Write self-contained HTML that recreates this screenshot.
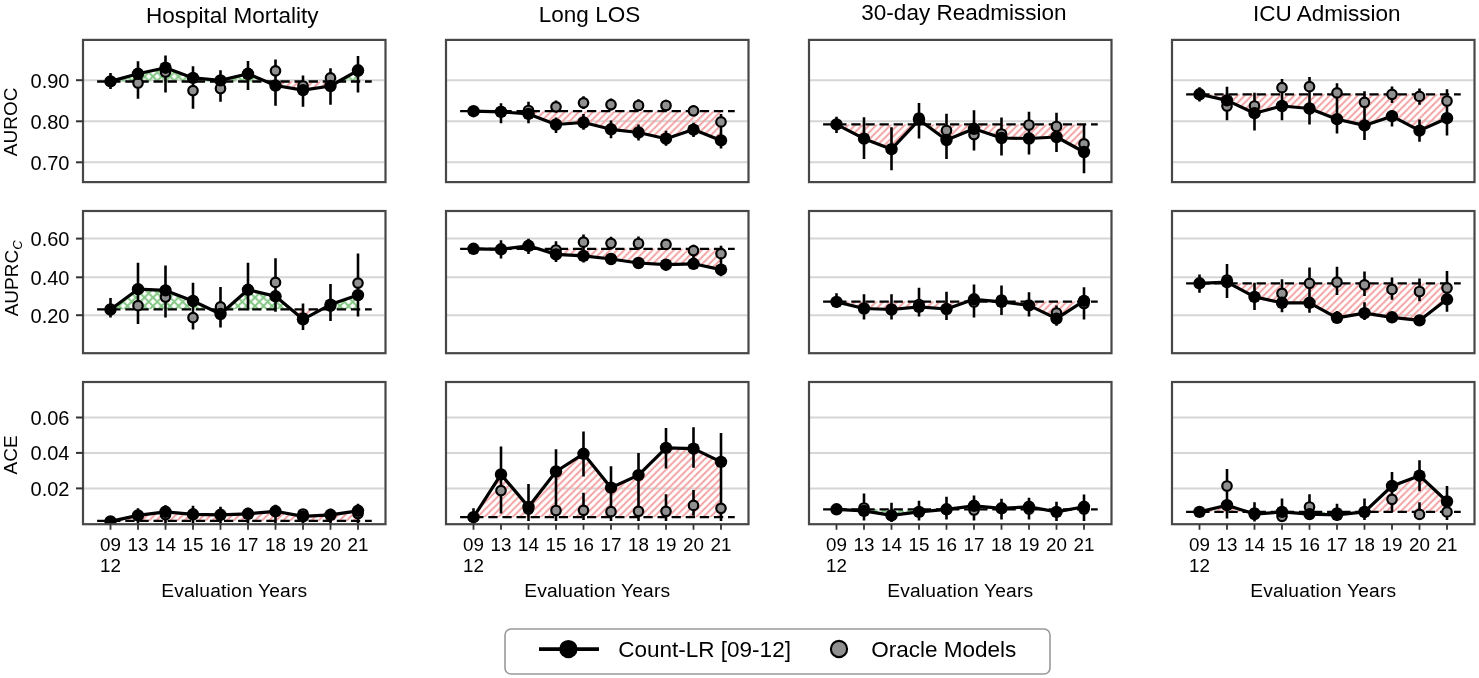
<!DOCTYPE html>
<html><head><meta charset="utf-8"><style>
html,body{margin:0;padding:0;background:#fff;}
svg{display:block;filter:blur(0.55px);}
text{font-family:"Liberation Sans",sans-serif;fill:#000;}
</style></head><body>
<svg width="1479" height="678" viewBox="0 0 1479 678">
<defs>
<pattern id="hr" patternUnits="userSpaceOnUse" width="7.06" height="7.06" patternTransform="translate(6,0)">
<path d="M-1,1 L1,-1 M0,7.06 L7.06,0 M6.06,8.06 L8.06,6.06" stroke="#f4a2a2" stroke-width="2" fill="none"/>
</pattern>
<pattern id="hg" patternUnits="userSpaceOnUse" width="8.5" height="8.5">
<path d="M-1,1 L1,-1 M0,8.5 L8.5,0 M7.5,9.5 L9.5,7.5 M-1,7.5 L1,9.5 M0,0 L8.5,8.5 M7.5,-1 L9.5,1" stroke="#82c682" stroke-width="2" fill="none"/>
</pattern>
<clipPath id="c00"><rect x="83" y="39.9" width="302.5" height="142.2"/></clipPath><clipPath id="c01"><rect x="446" y="39.9" width="302.5" height="142.2"/></clipPath><clipPath id="c02"><rect x="809" y="39.9" width="302.5" height="142.2"/></clipPath><clipPath id="c03"><rect x="1172" y="39.9" width="302.5" height="142.2"/></clipPath><clipPath id="c10"><rect x="83" y="211" width="302.5" height="142.2"/></clipPath><clipPath id="c11"><rect x="446" y="211" width="302.5" height="142.2"/></clipPath><clipPath id="c12"><rect x="809" y="211" width="302.5" height="142.2"/></clipPath><clipPath id="c13"><rect x="1172" y="211" width="302.5" height="142.2"/></clipPath><clipPath id="c20"><rect x="83" y="382" width="302.5" height="142.2"/></clipPath><clipPath id="c21"><rect x="446" y="382" width="302.5" height="142.2"/></clipPath><clipPath id="c22"><rect x="809" y="382" width="302.5" height="142.2"/></clipPath><clipPath id="c23"><rect x="1172" y="382" width="302.5" height="142.2"/></clipPath></defs>
<rect width="1479" height="678" fill="#fff"/>
<g clip-path="url(#c00)">
<line x1="84" y1="80.2" x2="384.5" y2="80.2" stroke="#d6d6d6" stroke-width="2"/>
<line x1="84" y1="121.3" x2="384.5" y2="121.3" stroke="#d6d6d6" stroke-width="2"/>
<line x1="84" y1="162.3" x2="384.5" y2="162.3" stroke="#d6d6d6" stroke-width="2"/>
<path d="M110.5,81.4 L138,73.8 L138,81.5 L110.5,81.5Z" fill="url(#hg)"/>
<path d="M138,73.8 L165.5,67.7 L165.5,81.5 L138,81.5Z" fill="url(#hg)"/>
<path d="M165.5,67.7 L193,77.9 L193,81.5 L165.5,81.5Z" fill="url(#hg)"/>
<path d="M193,77.9 L220.5,80.4 L220.5,81.5 L193,81.5Z" fill="url(#hg)"/>
<path d="M220.5,80.4 L248,73.8 L248,81.5 L220.5,81.5Z" fill="url(#hg)"/>
<path d="M248,73.8 L266.1,81.5 L266.1,81.5 L248,81.5Z" fill="url(#hg)"/>
<path d="M266.1,81.5 L275.5,85.5 L275.5,81.5 L266.1,81.5Z" fill="url(#hr)"/>
<path d="M275.5,85.5 L303,90.1 L303,81.5 L275.5,81.5Z" fill="url(#hr)"/>
<path d="M303,90.1 L330.5,86 L330.5,81.5 L303,81.5Z" fill="url(#hr)"/>
<path d="M330.5,86 L338.38,81.5 L338.38,81.5 L330.5,81.5Z" fill="url(#hr)"/>
<path d="M338.38,81.5 L358,70.3 L358,81.5 L338.38,81.5Z" fill="url(#hg)"/>
<line x1="96.75" y1="81.5" x2="371.75" y2="81.5" stroke="#000" stroke-width="2.3" stroke-dasharray="9.3 4.8" stroke-dashoffset="-0.35"/>
<path d="M110.5,73.1V89M138,61.2V98.7M165.5,55.6V92.6M193,66.2V108.8M220.5,70.3V101.7M248,61V90M275.5,59.6V105.8M303,75.4V106.8M330.5,68.3V104.8M358,56.1V92.6" stroke="#000" stroke-width="2.6" fill="none"/>
<circle cx="138" cy="83" r="4.75" fill="#909090" stroke="#000" stroke-width="2.2"/>
<circle cx="165.5" cy="72" r="4.75" fill="#909090" stroke="#000" stroke-width="2.2"/>
<circle cx="193" cy="90.6" r="4.75" fill="#909090" stroke="#000" stroke-width="2.2"/>
<circle cx="220.5" cy="88.5" r="4.75" fill="#909090" stroke="#000" stroke-width="2.2"/>
<circle cx="248" cy="74" r="4.75" fill="#909090" stroke="#000" stroke-width="2.2"/>
<circle cx="275.5" cy="70.8" r="4.75" fill="#909090" stroke="#000" stroke-width="2.2"/>
<circle cx="303" cy="86" r="4.75" fill="#909090" stroke="#000" stroke-width="2.2"/>
<circle cx="330.5" cy="77.9" r="4.75" fill="#909090" stroke="#000" stroke-width="2.2"/>
<circle cx="358" cy="71" r="4.75" fill="#909090" stroke="#000" stroke-width="2.2"/>
<path d="M110.5,81.4 L138,73.8 L165.5,67.7 L193,77.9 L220.5,80.4 L248,73.8 L275.5,85.5 L303,90.1 L330.5,86 L358,70.3" stroke="#000" stroke-width="3.2" fill="none" stroke-linejoin="round"/>
<circle cx="110.5" cy="81.4" r="6.2"/>
<circle cx="138" cy="73.8" r="6.2"/>
<circle cx="165.5" cy="67.7" r="6.2"/>
<circle cx="193" cy="77.9" r="6.2"/>
<circle cx="220.5" cy="80.4" r="6.2"/>
<circle cx="248" cy="73.8" r="6.2"/>
<circle cx="275.5" cy="85.5" r="6.2"/>
<circle cx="303" cy="90.1" r="6.2"/>
<circle cx="330.5" cy="86" r="6.2"/>
<circle cx="358" cy="70.3" r="6.2"/>
</g>
<rect x="83" y="39.9" width="302.5" height="142.2" fill="none" stroke="#474747" stroke-width="2.2"/>
<g clip-path="url(#c01)">
<line x1="447" y1="80.2" x2="747.5" y2="80.2" stroke="#d6d6d6" stroke-width="2"/>
<line x1="447" y1="121.3" x2="747.5" y2="121.3" stroke="#d6d6d6" stroke-width="2"/>
<line x1="447" y1="162.3" x2="747.5" y2="162.3" stroke="#d6d6d6" stroke-width="2"/>
<path d="M473.5,111.2 L501,111.9 L501,111.2 L473.5,111.2Z" fill="url(#hr)"/>
<path d="M501,111.9 L528.5,113.9 L528.5,111.2 L501,111.2Z" fill="url(#hr)"/>
<path d="M528.5,113.9 L556,124.5 L556,111.2 L528.5,111.2Z" fill="url(#hr)"/>
<path d="M556,124.5 L583.5,122.5 L583.5,111.2 L556,111.2Z" fill="url(#hr)"/>
<path d="M583.5,122.5 L611,129.3 L611,111.2 L583.5,111.2Z" fill="url(#hr)"/>
<path d="M611,129.3 L638.5,132.5 L638.5,111.2 L611,111.2Z" fill="url(#hr)"/>
<path d="M638.5,132.5 L666,138.7 L666,111.2 L638.5,111.2Z" fill="url(#hr)"/>
<path d="M666,138.7 L693.5,129.6 L693.5,111.2 L666,111.2Z" fill="url(#hr)"/>
<path d="M693.5,129.6 L721,140.4 L721,111.2 L693.5,111.2Z" fill="url(#hr)"/>
<line x1="459.75" y1="111.2" x2="734.75" y2="111.2" stroke="#000" stroke-width="2.3" stroke-dasharray="9.3 4.8" stroke-dashoffset="-0.35"/>
<path d="M473.5,109V113M501,103.3V123.3M528.5,101.7V123.3M556,100.6V112.6M556,117.4V132.9M583.5,96.2V109M583.5,113.9V129.8M611,98.4V110.4M611,120.5V138.2M638.5,99.3V110.8M638.5,124.5V140.4M666,99.7V111.2M666,130.7V145.8M693.5,105.5V116.1M693.5,122.7V136.9M721,113.9V148.4" stroke="#000" stroke-width="2.6" fill="none"/>
<circle cx="501" cy="111.5" r="4.75" fill="#909090" stroke="#000" stroke-width="2.2"/>
<circle cx="528.5" cy="110.5" r="4.75" fill="#909090" stroke="#000" stroke-width="2.2"/>
<circle cx="556" cy="106.8" r="4.75" fill="#909090" stroke="#000" stroke-width="2.2"/>
<circle cx="583.5" cy="102.8" r="4.75" fill="#909090" stroke="#000" stroke-width="2.2"/>
<circle cx="611" cy="104.6" r="4.75" fill="#909090" stroke="#000" stroke-width="2.2"/>
<circle cx="638.5" cy="105.5" r="4.75" fill="#909090" stroke="#000" stroke-width="2.2"/>
<circle cx="666" cy="105.5" r="4.75" fill="#909090" stroke="#000" stroke-width="2.2"/>
<circle cx="693.5" cy="110.8" r="4.75" fill="#909090" stroke="#000" stroke-width="2.2"/>
<circle cx="721" cy="121.9" r="4.75" fill="#909090" stroke="#000" stroke-width="2.2"/>
<path d="M473.5,111.2 L501,111.9 L528.5,113.9 L556,124.5 L583.5,122.5 L611,129.3 L638.5,132.5 L666,138.7 L693.5,129.6 L721,140.4" stroke="#000" stroke-width="3.2" fill="none" stroke-linejoin="round"/>
<circle cx="473.5" cy="111.2" r="6.2"/>
<circle cx="501" cy="111.9" r="6.2"/>
<circle cx="528.5" cy="113.9" r="6.2"/>
<circle cx="556" cy="124.5" r="6.2"/>
<circle cx="583.5" cy="122.5" r="6.2"/>
<circle cx="611" cy="129.3" r="6.2"/>
<circle cx="638.5" cy="132.5" r="6.2"/>
<circle cx="666" cy="138.7" r="6.2"/>
<circle cx="693.5" cy="129.6" r="6.2"/>
<circle cx="721" cy="140.4" r="6.2"/>
</g>
<rect x="446" y="39.9" width="302.5" height="142.2" fill="none" stroke="#474747" stroke-width="2.2"/>
<g clip-path="url(#c02)">
<line x1="810" y1="80.2" x2="1110.5" y2="80.2" stroke="#d6d6d6" stroke-width="2"/>
<line x1="810" y1="121.3" x2="1110.5" y2="121.3" stroke="#d6d6d6" stroke-width="2"/>
<line x1="810" y1="162.3" x2="1110.5" y2="162.3" stroke="#d6d6d6" stroke-width="2"/>
<path d="M836.5,124.4 L864,138.7 L864,124.4 L836.5,124.4Z" fill="url(#hr)"/>
<path d="M864,138.7 L891.5,149.2 L891.5,124.4 L864,124.4Z" fill="url(#hr)"/>
<path d="M891.5,149.2 L914.7,124.4 L914.7,124.4 L891.5,124.4Z" fill="url(#hr)"/>
<path d="M914.7,124.4 L919,119.8 L919,124.4 L914.7,124.4Z" fill="url(#hg)"/>
<path d="M919,119.8 L925.26,124.4 L925.26,124.4 L919,124.4Z" fill="url(#hg)"/>
<path d="M925.26,124.4 L946.5,140 L946.5,124.4 L925.26,124.4Z" fill="url(#hr)"/>
<path d="M946.5,140 L974,128.8 L974,124.4 L946.5,124.4Z" fill="url(#hr)"/>
<path d="M974,128.8 L1001.5,138 L1001.5,124.4 L974,124.4Z" fill="url(#hr)"/>
<path d="M1001.5,138 L1029,138.5 L1029,124.4 L1001.5,124.4Z" fill="url(#hr)"/>
<path d="M1029,138.5 L1056.5,137 L1056.5,124.4 L1029,124.4Z" fill="url(#hr)"/>
<path d="M1056.5,137 L1084,152 L1084,124.4 L1056.5,124.4Z" fill="url(#hr)"/>
<line x1="822.75" y1="124.4" x2="1097.75" y2="124.4" stroke="#000" stroke-width="2.3" stroke-dasharray="9.3 4.8" stroke-dashoffset="-0.35"/>
<path d="M836.5,116.8V133M864,117.3V159.1M891.5,127.3V170.3M919,103.1V138.6M946.5,113.8V159.1M974,110.3V150.5M1001.5,117.4V155.6M1029,111.8V154.6M1056.5,112.8V152M1084,124.5V173.3" stroke="#000" stroke-width="2.6" fill="none"/>
<circle cx="919" cy="118" r="4.75" fill="#909090" stroke="#000" stroke-width="2.2"/>
<circle cx="946.5" cy="130.5" r="4.75" fill="#909090" stroke="#000" stroke-width="2.2"/>
<circle cx="974" cy="134.6" r="4.75" fill="#909090" stroke="#000" stroke-width="2.2"/>
<circle cx="1001.5" cy="134" r="4.75" fill="#909090" stroke="#000" stroke-width="2.2"/>
<circle cx="1029" cy="125" r="4.75" fill="#909090" stroke="#000" stroke-width="2.2"/>
<circle cx="1056.5" cy="126.5" r="4.75" fill="#909090" stroke="#000" stroke-width="2.2"/>
<circle cx="1084" cy="143.9" r="4.75" fill="#909090" stroke="#000" stroke-width="2.2"/>
<path d="M836.5,124.4 L864,138.7 L891.5,149.2 L919,119.8 L946.5,140 L974,128.8 L1001.5,138 L1029,138.5 L1056.5,137 L1084,152" stroke="#000" stroke-width="3.2" fill="none" stroke-linejoin="round"/>
<circle cx="836.5" cy="124.4" r="6.2"/>
<circle cx="864" cy="138.7" r="6.2"/>
<circle cx="891.5" cy="149.2" r="6.2"/>
<circle cx="919" cy="119.8" r="6.2"/>
<circle cx="946.5" cy="140" r="6.2"/>
<circle cx="974" cy="128.8" r="6.2"/>
<circle cx="1001.5" cy="138" r="6.2"/>
<circle cx="1029" cy="138.5" r="6.2"/>
<circle cx="1056.5" cy="137" r="6.2"/>
<circle cx="1084" cy="152" r="6.2"/>
</g>
<rect x="809" y="39.9" width="302.5" height="142.2" fill="none" stroke="#474747" stroke-width="2.2"/>
<g clip-path="url(#c03)">
<line x1="1173" y1="80.2" x2="1473.5" y2="80.2" stroke="#d6d6d6" stroke-width="2"/>
<line x1="1173" y1="121.3" x2="1473.5" y2="121.3" stroke="#d6d6d6" stroke-width="2"/>
<line x1="1173" y1="162.3" x2="1473.5" y2="162.3" stroke="#d6d6d6" stroke-width="2"/>
<path d="M1199.5,94.3 L1227,100.4 L1227,94.3 L1199.5,94.3Z" fill="url(#hr)"/>
<path d="M1227,100.4 L1254.5,113.2 L1254.5,94.3 L1227,94.3Z" fill="url(#hr)"/>
<path d="M1254.5,113.2 L1282,106 L1282,94.3 L1254.5,94.3Z" fill="url(#hr)"/>
<path d="M1282,106 L1309.5,108.5 L1309.5,94.3 L1282,94.3Z" fill="url(#hr)"/>
<path d="M1309.5,108.5 L1337,119.2 L1337,94.3 L1309.5,94.3Z" fill="url(#hr)"/>
<path d="M1337,119.2 L1364.5,125.4 L1364.5,94.3 L1337,94.3Z" fill="url(#hr)"/>
<path d="M1364.5,125.4 L1392,116.2 L1392,94.3 L1364.5,94.3Z" fill="url(#hr)"/>
<path d="M1392,116.2 L1419.5,130.6 L1419.5,94.3 L1392,94.3Z" fill="url(#hr)"/>
<path d="M1419.5,130.6 L1447,118.2 L1447,94.3 L1419.5,94.3Z" fill="url(#hr)"/>
<line x1="1185.75" y1="94.3" x2="1460.75" y2="94.3" stroke="#000" stroke-width="2.3" stroke-dasharray="9.3 4.8" stroke-dashoffset="-0.35"/>
<path d="M1199.5,87.2V101.4M1227,86.7V120.2M1254.5,92.8V130.5M1282,79.1V120.2M1309.5,77.1V124.6M1337,83.2V133.5M1364.5,91.3V140.1M1392,86.4V103M1392,110V126.5M1419.5,88.4V104.8M1419.5,119.4V141.7M1447,89.3V135.6" stroke="#000" stroke-width="2.6" fill="none"/>
<circle cx="1227" cy="106" r="4.75" fill="#909090" stroke="#000" stroke-width="2.2"/>
<circle cx="1254.5" cy="106" r="4.75" fill="#909090" stroke="#000" stroke-width="2.2"/>
<circle cx="1282" cy="87.7" r="4.75" fill="#909090" stroke="#000" stroke-width="2.2"/>
<circle cx="1309.5" cy="86.7" r="4.75" fill="#909090" stroke="#000" stroke-width="2.2"/>
<circle cx="1337" cy="92.8" r="4.75" fill="#909090" stroke="#000" stroke-width="2.2"/>
<circle cx="1364.5" cy="102.3" r="4.75" fill="#909090" stroke="#000" stroke-width="2.2"/>
<circle cx="1392" cy="94.3" r="4.75" fill="#909090" stroke="#000" stroke-width="2.2"/>
<circle cx="1419.5" cy="96.4" r="4.75" fill="#909090" stroke="#000" stroke-width="2.2"/>
<circle cx="1447" cy="101" r="4.75" fill="#909090" stroke="#000" stroke-width="2.2"/>
<path d="M1199.5,94.3 L1227,100.4 L1254.5,113.2 L1282,106 L1309.5,108.5 L1337,119.2 L1364.5,125.4 L1392,116.2 L1419.5,130.6 L1447,118.2" stroke="#000" stroke-width="3.2" fill="none" stroke-linejoin="round"/>
<circle cx="1199.5" cy="94.3" r="6.2"/>
<circle cx="1227" cy="100.4" r="6.2"/>
<circle cx="1254.5" cy="113.2" r="6.2"/>
<circle cx="1282" cy="106" r="6.2"/>
<circle cx="1309.5" cy="108.5" r="6.2"/>
<circle cx="1337" cy="119.2" r="6.2"/>
<circle cx="1364.5" cy="125.4" r="6.2"/>
<circle cx="1392" cy="116.2" r="6.2"/>
<circle cx="1419.5" cy="130.6" r="6.2"/>
<circle cx="1447" cy="118.2" r="6.2"/>
</g>
<rect x="1172" y="39.9" width="302.5" height="142.2" fill="none" stroke="#474747" stroke-width="2.2"/>
<g clip-path="url(#c10)">
<line x1="84" y1="238.6" x2="384.5" y2="238.6" stroke="#d6d6d6" stroke-width="2"/>
<line x1="84" y1="277.3" x2="384.5" y2="277.3" stroke="#d6d6d6" stroke-width="2"/>
<line x1="84" y1="315.2" x2="384.5" y2="315.2" stroke="#d6d6d6" stroke-width="2"/>
<path d="M110.5,309.5 L110.77,309.3 L110.77,309.3 L110.5,309.3Z" fill="url(#hr)"/>
<path d="M110.77,309.3 L138,289.2 L138,309.3 L110.77,309.3Z" fill="url(#hg)"/>
<path d="M138,289.2 L165.5,290.4 L165.5,309.3 L138,309.3Z" fill="url(#hg)"/>
<path d="M165.5,290.4 L193,301 L193,309.3 L165.5,309.3Z" fill="url(#hg)"/>
<path d="M193,301 L210.56,309.3 L210.56,309.3 L193,309.3Z" fill="url(#hg)"/>
<path d="M210.56,309.3 L220.5,314 L220.5,309.3 L210.56,309.3Z" fill="url(#hr)"/>
<path d="M220.5,314 L225.84,309.3 L225.84,309.3 L220.5,309.3Z" fill="url(#hr)"/>
<path d="M225.84,309.3 L248,289.8 L248,309.3 L225.84,309.3Z" fill="url(#hg)"/>
<path d="M248,289.8 L275.5,296.3 L275.5,309.3 L248,309.3Z" fill="url(#hg)"/>
<path d="M275.5,296.3 L291.04,309.3 L291.04,309.3 L275.5,309.3Z" fill="url(#hg)"/>
<path d="M291.04,309.3 L303,319.3 L303,309.3 L291.04,309.3Z" fill="url(#hr)"/>
<path d="M303,319.3 L321.71,309.3 L321.71,309.3 L303,309.3Z" fill="url(#hr)"/>
<path d="M321.71,309.3 L330.5,304.6 L330.5,309.3 L321.71,309.3Z" fill="url(#hg)"/>
<path d="M330.5,304.6 L358,295.1 L358,309.3 L330.5,309.3Z" fill="url(#hg)"/>
<line x1="96.75" y1="309.3" x2="371.75" y2="309.3" stroke="#000" stroke-width="2.3" stroke-dasharray="9.3 4.8" stroke-dashoffset="-0.35"/>
<path d="M110.5,298.1V317.6M138,262.7V324M165.5,265.6V317.6M193,282.7V329.4M220.5,286.9V327.6M248,262.8V310.5M275.5,258.3V311.7M303,303.4V330M330.5,283.9V321.1M358,253.4V316.4" stroke="#000" stroke-width="2.6" fill="none"/>
<circle cx="138" cy="305.7" r="4.75" fill="#909090" stroke="#000" stroke-width="2.2"/>
<circle cx="165.5" cy="297" r="4.75" fill="#909090" stroke="#000" stroke-width="2.2"/>
<circle cx="193" cy="317.6" r="4.75" fill="#909090" stroke="#000" stroke-width="2.2"/>
<circle cx="220.5" cy="306.9" r="4.75" fill="#909090" stroke="#000" stroke-width="2.2"/>
<circle cx="275.5" cy="282.4" r="4.75" fill="#909090" stroke="#000" stroke-width="2.2"/>
<circle cx="303" cy="318" r="4.75" fill="#909090" stroke="#000" stroke-width="2.2"/>
<circle cx="330.5" cy="306" r="4.75" fill="#909090" stroke="#000" stroke-width="2.2"/>
<circle cx="358" cy="283.1" r="4.75" fill="#909090" stroke="#000" stroke-width="2.2"/>
<path d="M110.5,309.5 L138,289.2 L165.5,290.4 L193,301 L220.5,314 L248,289.8 L275.5,296.3 L303,319.3 L330.5,304.6 L358,295.1" stroke="#000" stroke-width="3.2" fill="none" stroke-linejoin="round"/>
<circle cx="110.5" cy="309.5" r="6.2"/>
<circle cx="138" cy="289.2" r="6.2"/>
<circle cx="165.5" cy="290.4" r="6.2"/>
<circle cx="193" cy="301" r="6.2"/>
<circle cx="220.5" cy="314" r="6.2"/>
<circle cx="248" cy="289.8" r="6.2"/>
<circle cx="275.5" cy="296.3" r="6.2"/>
<circle cx="303" cy="319.3" r="6.2"/>
<circle cx="330.5" cy="304.6" r="6.2"/>
<circle cx="358" cy="295.1" r="6.2"/>
</g>
<rect x="83" y="211" width="302.5" height="142.2" fill="none" stroke="#474747" stroke-width="2.2"/>
<g clip-path="url(#c11)">
<line x1="447" y1="238.6" x2="747.5" y2="238.6" stroke="#d6d6d6" stroke-width="2"/>
<line x1="447" y1="277.3" x2="747.5" y2="277.3" stroke="#d6d6d6" stroke-width="2"/>
<line x1="447" y1="315.2" x2="747.5" y2="315.2" stroke="#d6d6d6" stroke-width="2"/>
<path d="M473.5,248.8 L501,249.3 L501,248.8 L473.5,248.8Z" fill="url(#hr)"/>
<path d="M501,249.3 L504.93,248.8 L504.93,248.8 L501,248.8Z" fill="url(#hr)"/>
<path d="M504.93,248.8 L528.5,245.8 L528.5,248.8 L504.93,248.8Z" fill="url(#hg)"/>
<path d="M528.5,245.8 L538.09,248.8 L538.09,248.8 L528.5,248.8Z" fill="url(#hg)"/>
<path d="M538.09,248.8 L556,254.4 L556,248.8 L538.09,248.8Z" fill="url(#hr)"/>
<path d="M556,254.4 L583.5,255.9 L583.5,248.8 L556,248.8Z" fill="url(#hr)"/>
<path d="M583.5,255.9 L611,259 L611,248.8 L583.5,248.8Z" fill="url(#hr)"/>
<path d="M611,259 L638.5,263 L638.5,248.8 L611,248.8Z" fill="url(#hr)"/>
<path d="M638.5,263 L666,264.7 L666,248.8 L638.5,248.8Z" fill="url(#hr)"/>
<path d="M666,264.7 L693.5,263.8 L693.5,248.8 L666,248.8Z" fill="url(#hr)"/>
<path d="M693.5,263.8 L721,269.6 L721,248.8 L693.5,248.8Z" fill="url(#hr)"/>
<line x1="459.75" y1="248.8" x2="734.75" y2="248.8" stroke="#000" stroke-width="2.3" stroke-dasharray="9.3 4.8" stroke-dashoffset="-0.35"/>
<path d="M473.5,247V251M501,240.2V258.5M528.5,238.7V253.9M556,241.2V262M583.5,234.6V262.5M611,236.7V249.5M611,253V264.6M638.5,236.4V249.5M638.5,257.2V268.7M666,239V249.7M666,259V270.5M693.5,244.8V269.2M721,245.7V276.2" stroke="#000" stroke-width="2.6" fill="none"/>
<circle cx="556" cy="250" r="4.75" fill="#909090" stroke="#000" stroke-width="2.2"/>
<circle cx="583.5" cy="242.2" r="4.75" fill="#909090" stroke="#000" stroke-width="2.2"/>
<circle cx="611" cy="243.3" r="4.75" fill="#909090" stroke="#000" stroke-width="2.2"/>
<circle cx="638.5" cy="243.5" r="4.75" fill="#909090" stroke="#000" stroke-width="2.2"/>
<circle cx="666" cy="244.4" r="4.75" fill="#909090" stroke="#000" stroke-width="2.2"/>
<circle cx="693.5" cy="250.6" r="4.75" fill="#909090" stroke="#000" stroke-width="2.2"/>
<circle cx="721" cy="253.7" r="4.75" fill="#909090" stroke="#000" stroke-width="2.2"/>
<path d="M473.5,248.8 L501,249.3 L528.5,245.8 L556,254.4 L583.5,255.9 L611,259 L638.5,263 L666,264.7 L693.5,263.8 L721,269.6" stroke="#000" stroke-width="3.2" fill="none" stroke-linejoin="round"/>
<circle cx="473.5" cy="248.8" r="6.2"/>
<circle cx="501" cy="249.3" r="6.2"/>
<circle cx="528.5" cy="245.8" r="6.2"/>
<circle cx="556" cy="254.4" r="6.2"/>
<circle cx="583.5" cy="255.9" r="6.2"/>
<circle cx="611" cy="259" r="6.2"/>
<circle cx="638.5" cy="263" r="6.2"/>
<circle cx="666" cy="264.7" r="6.2"/>
<circle cx="693.5" cy="263.8" r="6.2"/>
<circle cx="721" cy="269.6" r="6.2"/>
</g>
<rect x="446" y="211" width="302.5" height="142.2" fill="none" stroke="#474747" stroke-width="2.2"/>
<g clip-path="url(#c12)">
<line x1="810" y1="238.6" x2="1110.5" y2="238.6" stroke="#d6d6d6" stroke-width="2"/>
<line x1="810" y1="277.3" x2="1110.5" y2="277.3" stroke="#d6d6d6" stroke-width="2"/>
<line x1="810" y1="315.2" x2="1110.5" y2="315.2" stroke="#d6d6d6" stroke-width="2"/>
<path d="M836.5,301.9 L864,308.5 L864,301.6 L836.5,301.6Z" fill="url(#hr)"/>
<path d="M864,308.5 L891.5,309.5 L891.5,301.6 L864,301.6Z" fill="url(#hr)"/>
<path d="M891.5,309.5 L919,306.9 L919,301.6 L891.5,301.6Z" fill="url(#hr)"/>
<path d="M919,306.9 L946.5,309 L946.5,301.6 L919,301.6Z" fill="url(#hr)"/>
<path d="M946.5,309 L967.48,301.6 L967.48,301.6 L946.5,301.6Z" fill="url(#hr)"/>
<path d="M967.48,301.6 L974,299.3 L974,301.6 L967.48,301.6Z" fill="url(#hg)"/>
<path d="M974,299.3 L998.33,301.6 L998.33,301.6 L974,301.6Z" fill="url(#hg)"/>
<path d="M998.33,301.6 L1001.5,301.9 L1001.5,301.6 L998.33,301.6Z" fill="url(#hr)"/>
<path d="M1001.5,301.9 L1029,305.4 L1029,301.6 L1001.5,301.6Z" fill="url(#hr)"/>
<path d="M1029,305.4 L1056.5,318.6 L1056.5,301.6 L1029,301.6Z" fill="url(#hr)"/>
<path d="M1056.5,318.6 L1082.91,301.6 L1082.91,301.6 L1056.5,301.6Z" fill="url(#hr)"/>
<path d="M1082.91,301.6 L1084,300.9 L1084,301.6 L1082.91,301.6Z" fill="url(#hg)"/>
<line x1="822.75" y1="301.6" x2="1097.75" y2="301.6" stroke="#000" stroke-width="2.3" stroke-dasharray="9.3 4.8" stroke-dashoffset="-0.35"/>
<path d="M836.5,293.3V307.5M864,294.3V319.6M891.5,294.3V319.6M919,287.7V316.6M946.5,291.7V320.1M974,284.6V317.6M1001.5,285.6V315M1029,292.2V316.6M1056.5,305.4V325.7M1084,287.2V319.6" stroke="#000" stroke-width="2.6" fill="none"/>
<circle cx="919" cy="304.5" r="4.75" fill="#909090" stroke="#000" stroke-width="2.2"/>
<circle cx="974" cy="302" r="4.75" fill="#909090" stroke="#000" stroke-width="2.2"/>
<circle cx="1001.5" cy="300" r="4.75" fill="#909090" stroke="#000" stroke-width="2.2"/>
<circle cx="1056.5" cy="313" r="4.75" fill="#909090" stroke="#000" stroke-width="2.2"/>
<circle cx="1084" cy="303.5" r="4.75" fill="#909090" stroke="#000" stroke-width="2.2"/>
<path d="M836.5,301.9 L864,308.5 L891.5,309.5 L919,306.9 L946.5,309 L974,299.3 L1001.5,301.9 L1029,305.4 L1056.5,318.6 L1084,300.9" stroke="#000" stroke-width="3.2" fill="none" stroke-linejoin="round"/>
<circle cx="836.5" cy="301.9" r="6.2"/>
<circle cx="864" cy="308.5" r="6.2"/>
<circle cx="891.5" cy="309.5" r="6.2"/>
<circle cx="919" cy="306.9" r="6.2"/>
<circle cx="946.5" cy="309" r="6.2"/>
<circle cx="974" cy="299.3" r="6.2"/>
<circle cx="1001.5" cy="301.9" r="6.2"/>
<circle cx="1029" cy="305.4" r="6.2"/>
<circle cx="1056.5" cy="318.6" r="6.2"/>
<circle cx="1084" cy="300.9" r="6.2"/>
</g>
<rect x="809" y="211" width="302.5" height="142.2" fill="none" stroke="#474747" stroke-width="2.2"/>
<g clip-path="url(#c13)">
<line x1="1173" y1="238.6" x2="1473.5" y2="238.6" stroke="#d6d6d6" stroke-width="2"/>
<line x1="1173" y1="277.3" x2="1473.5" y2="277.3" stroke="#d6d6d6" stroke-width="2"/>
<line x1="1173" y1="315.2" x2="1473.5" y2="315.2" stroke="#d6d6d6" stroke-width="2"/>
<path d="M1199.5,283.3 L1227,282.1 L1227,283.3 L1199.5,283.3Z" fill="url(#hg)"/>
<path d="M1227,282.1 L1229.23,283.3 L1229.23,283.3 L1227,283.3Z" fill="url(#hg)"/>
<path d="M1229.23,283.3 L1254.5,296.9 L1254.5,283.3 L1229.23,283.3Z" fill="url(#hr)"/>
<path d="M1254.5,296.9 L1282,302.8 L1282,283.3 L1254.5,283.3Z" fill="url(#hr)"/>
<path d="M1282,302.8 L1309.5,302.8 L1309.5,283.3 L1282,283.3Z" fill="url(#hr)"/>
<path d="M1309.5,302.8 L1337,317.8 L1337,283.3 L1309.5,283.3Z" fill="url(#hr)"/>
<path d="M1337,317.8 L1364.5,313.1 L1364.5,283.3 L1337,283.3Z" fill="url(#hr)"/>
<path d="M1364.5,313.1 L1392,317.3 L1392,283.3 L1364.5,283.3Z" fill="url(#hr)"/>
<path d="M1392,317.3 L1419.5,320.4 L1419.5,283.3 L1392,283.3Z" fill="url(#hr)"/>
<path d="M1419.5,320.4 L1447,299.3 L1447,283.3 L1419.5,283.3Z" fill="url(#hr)"/>
<line x1="1185.75" y1="283.3" x2="1460.75" y2="283.3" stroke="#000" stroke-width="2.3" stroke-dasharray="9.3 4.8" stroke-dashoffset="-0.35"/>
<path d="M1199.5,274.5V292.8M1227,263.9V298.1M1254.5,282.7V309.9M1282,279.2V312.2M1309.5,267.4V312.8M1337,266.7V295.1M1337,311V322M1364.5,271.4V296.1M1364.5,302.3V319.9M1392,277.5V299.7M1419.5,278.6V301.3M1447,270.9V311.7" stroke="#000" stroke-width="2.6" fill="none"/>
<circle cx="1227" cy="280" r="4.75" fill="#909090" stroke="#000" stroke-width="2.2"/>
<circle cx="1282" cy="293.4" r="4.75" fill="#909090" stroke="#000" stroke-width="2.2"/>
<circle cx="1309.5" cy="283.3" r="4.75" fill="#909090" stroke="#000" stroke-width="2.2"/>
<circle cx="1337" cy="282.2" r="4.75" fill="#909090" stroke="#000" stroke-width="2.2"/>
<circle cx="1364.5" cy="284.8" r="4.75" fill="#909090" stroke="#000" stroke-width="2.2"/>
<circle cx="1392" cy="289.4" r="4.75" fill="#909090" stroke="#000" stroke-width="2.2"/>
<circle cx="1419.5" cy="291.5" r="4.75" fill="#909090" stroke="#000" stroke-width="2.2"/>
<circle cx="1447" cy="288" r="4.75" fill="#909090" stroke="#000" stroke-width="2.2"/>
<path d="M1199.5,283.3 L1227,282.1 L1254.5,296.9 L1282,302.8 L1309.5,302.8 L1337,317.8 L1364.5,313.1 L1392,317.3 L1419.5,320.4 L1447,299.3" stroke="#000" stroke-width="3.2" fill="none" stroke-linejoin="round"/>
<circle cx="1199.5" cy="283.3" r="6.2"/>
<circle cx="1227" cy="282.1" r="6.2"/>
<circle cx="1254.5" cy="296.9" r="6.2"/>
<circle cx="1282" cy="302.8" r="6.2"/>
<circle cx="1309.5" cy="302.8" r="6.2"/>
<circle cx="1337" cy="317.8" r="6.2"/>
<circle cx="1364.5" cy="313.1" r="6.2"/>
<circle cx="1392" cy="317.3" r="6.2"/>
<circle cx="1419.5" cy="320.4" r="6.2"/>
<circle cx="1447" cy="299.3" r="6.2"/>
</g>
<rect x="1172" y="211" width="302.5" height="142.2" fill="none" stroke="#474747" stroke-width="2.2"/>
<g clip-path="url(#c20)">
<line x1="84" y1="417.5" x2="384.5" y2="417.5" stroke="#d6d6d6" stroke-width="2"/>
<line x1="84" y1="452.9" x2="384.5" y2="452.9" stroke="#d6d6d6" stroke-width="2"/>
<line x1="84" y1="488.4" x2="384.5" y2="488.4" stroke="#d6d6d6" stroke-width="2"/>
<path d="M110.5,521.4 L112.79,520.9 L112.79,520.9 L110.5,520.9Z" fill="url(#hg)"/>
<path d="M112.79,520.9 L138,515.4 L138,520.9 L112.79,520.9Z" fill="url(#hr)"/>
<path d="M138,515.4 L165.5,511.8 L165.5,520.9 L138,520.9Z" fill="url(#hr)"/>
<path d="M165.5,511.8 L193,514.3 L193,520.9 L165.5,520.9Z" fill="url(#hr)"/>
<path d="M193,514.3 L220.5,514.8 L220.5,520.9 L193,520.9Z" fill="url(#hr)"/>
<path d="M220.5,514.8 L248,513.8 L248,520.9 L220.5,520.9Z" fill="url(#hr)"/>
<path d="M248,513.8 L275.5,511.3 L275.5,520.9 L248,520.9Z" fill="url(#hr)"/>
<path d="M275.5,511.3 L303,516.4 L303,520.9 L275.5,520.9Z" fill="url(#hr)"/>
<path d="M303,516.4 L330.5,514.8 L330.5,520.9 L303,520.9Z" fill="url(#hr)"/>
<path d="M330.5,514.8 L358,510.8 L358,520.9 L330.5,520.9Z" fill="url(#hr)"/>
<line x1="96.75" y1="520.9" x2="371.75" y2="520.9" stroke="#000" stroke-width="2.3" stroke-dasharray="9.3 4.8" stroke-dashoffset="-0.35"/>
<path d="M110.5,519V524M138,508.3V524M165.5,505.2V524M193,505.7V524M220.5,506.7V524M248,507.7V524M275.5,504.7V524M303,509.8V524M330.5,508.8V524M358,503.7V524" stroke="#000" stroke-width="2.6" fill="none"/>
<circle cx="165.5" cy="514.5" r="4.75" fill="#909090" stroke="#000" stroke-width="2.2"/>
<circle cx="303" cy="514" r="4.75" fill="#909090" stroke="#000" stroke-width="2.2"/>
<circle cx="358" cy="513.5" r="4.75" fill="#909090" stroke="#000" stroke-width="2.2"/>
<path d="M110.5,521.4 L138,515.4 L165.5,511.8 L193,514.3 L220.5,514.8 L248,513.8 L275.5,511.3 L303,516.4 L330.5,514.8 L358,510.8" stroke="#000" stroke-width="3.2" fill="none" stroke-linejoin="round"/>
<circle cx="110.5" cy="521.4" r="6.2"/>
<circle cx="138" cy="515.4" r="6.2"/>
<circle cx="165.5" cy="511.8" r="6.2"/>
<circle cx="193" cy="514.3" r="6.2"/>
<circle cx="220.5" cy="514.8" r="6.2"/>
<circle cx="248" cy="513.8" r="6.2"/>
<circle cx="275.5" cy="511.3" r="6.2"/>
<circle cx="303" cy="516.4" r="6.2"/>
<circle cx="330.5" cy="514.8" r="6.2"/>
<circle cx="358" cy="510.8" r="6.2"/>
</g>
<rect x="83" y="382" width="302.5" height="142.2" fill="none" stroke="#474747" stroke-width="2.2"/>
<g clip-path="url(#c21)">
<line x1="447" y1="417.5" x2="747.5" y2="417.5" stroke="#d6d6d6" stroke-width="2"/>
<line x1="447" y1="452.9" x2="747.5" y2="452.9" stroke="#d6d6d6" stroke-width="2"/>
<line x1="447" y1="488.4" x2="747.5" y2="488.4" stroke="#d6d6d6" stroke-width="2"/>
<path d="M473.5,517.2 L501,474.4 L501,517.2 L473.5,517.2Z" fill="url(#hr)"/>
<path d="M501,474.4 L528.5,506.9 L528.5,517.2 L501,517.2Z" fill="url(#hr)"/>
<path d="M528.5,506.9 L556,471.5 L556,517.2 L528.5,517.2Z" fill="url(#hr)"/>
<path d="M556,471.5 L583.5,453.8 L583.5,517.2 L556,517.2Z" fill="url(#hr)"/>
<path d="M583.5,453.8 L611,487.7 L611,517.2 L583.5,517.2Z" fill="url(#hr)"/>
<path d="M611,487.7 L638.5,475.1 L638.5,517.2 L611,517.2Z" fill="url(#hr)"/>
<path d="M638.5,475.1 L666,447.9 L666,517.2 L638.5,517.2Z" fill="url(#hr)"/>
<path d="M666,447.9 L693.5,448.6 L693.5,517.2 L666,517.2Z" fill="url(#hr)"/>
<path d="M693.5,448.6 L721,461.9 L721,517.2 L693.5,517.2Z" fill="url(#hr)"/>
<line x1="459.75" y1="517.2" x2="734.75" y2="517.2" stroke="#000" stroke-width="2.3" stroke-dasharray="9.3 4.8" stroke-dashoffset="-0.35"/>
<path d="M473.5,508.3V524M501,446.4V513.5M528.5,484V520.9M556,449.3V520.9M583.5,431.6V476.6M583.5,492.8V520.1M611,466.3V520.9M638.5,453V520.9M666,428V468.5M666,494.3V520.9M693.5,427.2V467.8M693.5,489.9V515.7M721,433.1V520.9" stroke="#000" stroke-width="2.6" fill="none"/>
<circle cx="501" cy="490.6" r="4.75" fill="#909090" stroke="#000" stroke-width="2.2"/>
<circle cx="528.5" cy="509" r="4.75" fill="#909090" stroke="#000" stroke-width="2.2"/>
<circle cx="556" cy="510.5" r="4.75" fill="#909090" stroke="#000" stroke-width="2.2"/>
<circle cx="583.5" cy="510.3" r="4.75" fill="#909090" stroke="#000" stroke-width="2.2"/>
<circle cx="611" cy="511.7" r="4.75" fill="#909090" stroke="#000" stroke-width="2.2"/>
<circle cx="638.5" cy="511.3" r="4.75" fill="#909090" stroke="#000" stroke-width="2.2"/>
<circle cx="666" cy="511.3" r="4.75" fill="#909090" stroke="#000" stroke-width="2.2"/>
<circle cx="693.5" cy="505.4" r="4.75" fill="#909090" stroke="#000" stroke-width="2.2"/>
<circle cx="721" cy="508.3" r="4.75" fill="#909090" stroke="#000" stroke-width="2.2"/>
<path d="M473.5,517.2 L501,474.4 L528.5,506.9 L556,471.5 L583.5,453.8 L611,487.7 L638.5,475.1 L666,447.9 L693.5,448.6 L721,461.9" stroke="#000" stroke-width="3.2" fill="none" stroke-linejoin="round"/>
<circle cx="473.5" cy="517.2" r="6.2"/>
<circle cx="501" cy="474.4" r="6.2"/>
<circle cx="528.5" cy="506.9" r="6.2"/>
<circle cx="556" cy="471.5" r="6.2"/>
<circle cx="583.5" cy="453.8" r="6.2"/>
<circle cx="611" cy="487.7" r="6.2"/>
<circle cx="638.5" cy="475.1" r="6.2"/>
<circle cx="666" cy="447.9" r="6.2"/>
<circle cx="693.5" cy="448.6" r="6.2"/>
<circle cx="721" cy="461.9" r="6.2"/>
</g>
<rect x="446" y="382" width="302.5" height="142.2" fill="none" stroke="#474747" stroke-width="2.2"/>
<g clip-path="url(#c22)">
<line x1="810" y1="417.5" x2="1110.5" y2="417.5" stroke="#d6d6d6" stroke-width="2"/>
<line x1="810" y1="452.9" x2="1110.5" y2="452.9" stroke="#d6d6d6" stroke-width="2"/>
<line x1="810" y1="488.4" x2="1110.5" y2="488.4" stroke="#d6d6d6" stroke-width="2"/>
<path d="M836.5,509.3 L864,510.9 L864,509.3 L836.5,509.3Z" fill="url(#hg)"/>
<path d="M864,510.9 L891.5,515.4 L891.5,509.3 L864,509.3Z" fill="url(#hg)"/>
<path d="M891.5,515.4 L919,511.9 L919,509.3 L891.5,509.3Z" fill="url(#hg)"/>
<path d="M919,511.9 L946.5,509.3 L946.5,509.3 L919,509.3Z" fill="url(#hg)"/>
<path d="M946.5,509.3 L974,505.8 L974,509.3 L946.5,509.3Z" fill="url(#hr)"/>
<path d="M974,505.8 L1001.5,508.3 L1001.5,509.3 L974,509.3Z" fill="url(#hr)"/>
<path d="M1001.5,508.3 L1029,506.8 L1029,509.3 L1001.5,509.3Z" fill="url(#hr)"/>
<path d="M1029,506.8 L1042.48,509.3 L1042.48,509.3 L1029,509.3Z" fill="url(#hr)"/>
<path d="M1042.48,509.3 L1056.5,511.9 L1056.5,509.3 L1042.48,509.3Z" fill="url(#hg)"/>
<path d="M1056.5,511.9 L1070.52,509.3 L1070.52,509.3 L1056.5,509.3Z" fill="url(#hg)"/>
<path d="M1070.52,509.3 L1084,506.8 L1084,509.3 L1070.52,509.3Z" fill="url(#hr)"/>
<line x1="822.75" y1="509.3" x2="1097.75" y2="509.3" stroke="#000" stroke-width="2.3" stroke-dasharray="9.3 4.8" stroke-dashoffset="-0.35"/>
<path d="M836.5,506V512M864,493.6V520.5M891.5,502.7V522M919,500.7V520.5M946.5,496.7V519.5M974,495.6V520.5M1001.5,498.7V519.5M1029,497.7V519.5M1056.5,501.7V521M1084,494.6V521" stroke="#000" stroke-width="2.6" fill="none"/>
<circle cx="864" cy="508" r="4.75" fill="#909090" stroke="#000" stroke-width="2.2"/>
<circle cx="974" cy="510" r="4.75" fill="#909090" stroke="#000" stroke-width="2.2"/>
<circle cx="1029" cy="509" r="4.75" fill="#909090" stroke="#000" stroke-width="2.2"/>
<circle cx="1084" cy="509" r="4.75" fill="#909090" stroke="#000" stroke-width="2.2"/>
<path d="M836.5,509.3 L864,510.9 L891.5,515.4 L919,511.9 L946.5,509.3 L974,505.8 L1001.5,508.3 L1029,506.8 L1056.5,511.9 L1084,506.8" stroke="#000" stroke-width="3.2" fill="none" stroke-linejoin="round"/>
<circle cx="836.5" cy="509.3" r="6.2"/>
<circle cx="864" cy="510.9" r="6.2"/>
<circle cx="891.5" cy="515.4" r="6.2"/>
<circle cx="919" cy="511.9" r="6.2"/>
<circle cx="946.5" cy="509.3" r="6.2"/>
<circle cx="974" cy="505.8" r="6.2"/>
<circle cx="1001.5" cy="508.3" r="6.2"/>
<circle cx="1029" cy="506.8" r="6.2"/>
<circle cx="1056.5" cy="511.9" r="6.2"/>
<circle cx="1084" cy="506.8" r="6.2"/>
</g>
<rect x="809" y="382" width="302.5" height="142.2" fill="none" stroke="#474747" stroke-width="2.2"/>
<g clip-path="url(#c23)">
<line x1="1173" y1="417.5" x2="1473.5" y2="417.5" stroke="#d6d6d6" stroke-width="2"/>
<line x1="1173" y1="452.9" x2="1473.5" y2="452.9" stroke="#d6d6d6" stroke-width="2"/>
<line x1="1173" y1="488.4" x2="1473.5" y2="488.4" stroke="#d6d6d6" stroke-width="2"/>
<path d="M1199.5,511.9 L1227,505.2 L1227,511.9 L1199.5,511.9Z" fill="url(#hr)"/>
<path d="M1227,505.2 L1247.7,511.9 L1247.7,511.9 L1227,511.9Z" fill="url(#hr)"/>
<path d="M1247.7,511.9 L1254.5,514.1 L1254.5,511.9 L1247.7,511.9Z" fill="url(#hg)"/>
<path d="M1254.5,514.1 L1282,511.9 L1282,511.9 L1254.5,511.9Z" fill="url(#hg)"/>
<path d="M1282,511.9 L1309.5,514.1 L1309.5,511.9 L1282,511.9Z" fill="url(#hg)"/>
<path d="M1309.5,514.1 L1337,514.8 L1337,511.9 L1309.5,511.9Z" fill="url(#hg)"/>
<path d="M1337,514.8 L1364.5,511.9 L1364.5,511.9 L1337,511.9Z" fill="url(#hg)"/>
<path d="M1364.5,511.9 L1392,486 L1392,511.9 L1364.5,511.9Z" fill="url(#hr)"/>
<path d="M1392,486 L1419.5,475.7 L1419.5,511.9 L1392,511.9Z" fill="url(#hr)"/>
<path d="M1419.5,475.7 L1447,501.5 L1447,511.9 L1419.5,511.9Z" fill="url(#hr)"/>
<line x1="1185.75" y1="511.9" x2="1460.75" y2="511.9" stroke="#000" stroke-width="2.3" stroke-dasharray="9.3 4.8" stroke-dashoffset="-0.35"/>
<path d="M1199.5,509V515M1227,469.1V518.5M1254.5,502.3V521.4M1282,498.6V520M1309.5,494.2V520M1337,503.7V520.7M1364.5,498.6V520M1392,472V511.9M1419.5,460.2V491.2M1419.5,502.3V520M1447,486V520" stroke="#000" stroke-width="2.6" fill="none"/>
<circle cx="1227" cy="486" r="4.75" fill="#909090" stroke="#000" stroke-width="2.2"/>
<circle cx="1254.5" cy="513" r="4.75" fill="#909090" stroke="#000" stroke-width="2.2"/>
<circle cx="1282" cy="516.3" r="4.75" fill="#909090" stroke="#000" stroke-width="2.2"/>
<circle cx="1309.5" cy="507" r="4.75" fill="#909090" stroke="#000" stroke-width="2.2"/>
<circle cx="1337" cy="513" r="4.75" fill="#909090" stroke="#000" stroke-width="2.2"/>
<circle cx="1364.5" cy="512" r="4.75" fill="#909090" stroke="#000" stroke-width="2.2"/>
<circle cx="1392" cy="499.3" r="4.75" fill="#909090" stroke="#000" stroke-width="2.2"/>
<circle cx="1419.5" cy="514.4" r="4.75" fill="#909090" stroke="#000" stroke-width="2.2"/>
<circle cx="1447" cy="511.9" r="4.75" fill="#909090" stroke="#000" stroke-width="2.2"/>
<path d="M1199.5,511.9 L1227,505.2 L1254.5,514.1 L1282,511.9 L1309.5,514.1 L1337,514.8 L1364.5,511.9 L1392,486 L1419.5,475.7 L1447,501.5" stroke="#000" stroke-width="3.2" fill="none" stroke-linejoin="round"/>
<circle cx="1199.5" cy="511.9" r="6.2"/>
<circle cx="1227" cy="505.2" r="6.2"/>
<circle cx="1254.5" cy="514.1" r="6.2"/>
<circle cx="1282" cy="511.9" r="6.2"/>
<circle cx="1309.5" cy="514.1" r="6.2"/>
<circle cx="1337" cy="514.8" r="6.2"/>
<circle cx="1364.5" cy="511.9" r="6.2"/>
<circle cx="1392" cy="486" r="6.2"/>
<circle cx="1419.5" cy="475.7" r="6.2"/>
<circle cx="1447" cy="501.5" r="6.2"/>
</g>
<rect x="1172" y="382" width="302.5" height="142.2" fill="none" stroke="#474747" stroke-width="2.2"/>
<line x1="76" y1="80.2" x2="83" y2="80.2" stroke="#333" stroke-width="2"/><text x="69.5" y="87.5" font-size="20" text-anchor="end">0.90</text><line x1="76" y1="121.3" x2="83" y2="121.3" stroke="#333" stroke-width="2"/><text x="69.5" y="128.6" font-size="20" text-anchor="end">0.80</text><line x1="76" y1="162.3" x2="83" y2="162.3" stroke="#333" stroke-width="2"/><text x="69.5" y="169.6" font-size="20" text-anchor="end">0.70</text><line x1="76" y1="238.6" x2="83" y2="238.6" stroke="#333" stroke-width="2"/><text x="69.5" y="245.9" font-size="20" text-anchor="end">0.60</text><line x1="76" y1="277.3" x2="83" y2="277.3" stroke="#333" stroke-width="2"/><text x="69.5" y="284.6" font-size="20" text-anchor="end">0.40</text><line x1="76" y1="315.2" x2="83" y2="315.2" stroke="#333" stroke-width="2"/><text x="69.5" y="322.5" font-size="20" text-anchor="end">0.20</text><line x1="76" y1="417.5" x2="83" y2="417.5" stroke="#333" stroke-width="2"/><text x="69.5" y="424.8" font-size="20" text-anchor="end">0.06</text><line x1="76" y1="452.9" x2="83" y2="452.9" stroke="#333" stroke-width="2"/><text x="69.5" y="460.2" font-size="20" text-anchor="end">0.04</text><line x1="76" y1="488.4" x2="83" y2="488.4" stroke="#333" stroke-width="2"/><text x="69.5" y="495.7" font-size="20" text-anchor="end">0.02</text><path d="M110.5,524.2V529.7M138,524.2V529.7M165.5,524.2V529.7M193,524.2V529.7M220.5,524.2V529.7M248,524.2V529.7M275.5,524.2V529.7M303,524.2V529.7M330.5,524.2V529.7M358,524.2V529.7" stroke="#333" stroke-width="1.8"/><text x="110.5" y="550.5" font-size="18.8" text-anchor="middle">09</text><text x="138" y="550.5" font-size="18.8" text-anchor="middle">13</text><text x="165.5" y="550.5" font-size="18.8" text-anchor="middle">14</text><text x="193" y="550.5" font-size="18.8" text-anchor="middle">15</text><text x="220.5" y="550.5" font-size="18.8" text-anchor="middle">16</text><text x="248" y="550.5" font-size="18.8" text-anchor="middle">17</text><text x="275.5" y="550.5" font-size="18.8" text-anchor="middle">18</text><text x="303" y="550.5" font-size="18.8" text-anchor="middle">19</text><text x="330.5" y="550.5" font-size="18.8" text-anchor="middle">20</text><text x="358" y="550.5" font-size="18.8" text-anchor="middle">21</text><text x="110.5" y="571.5" font-size="18.8" text-anchor="middle">12</text><text x="234.25" y="597" font-size="19.2" letter-spacing="0.2" text-anchor="middle">Evaluation Years</text><path d="M473.5,524.2V529.7M501,524.2V529.7M528.5,524.2V529.7M556,524.2V529.7M583.5,524.2V529.7M611,524.2V529.7M638.5,524.2V529.7M666,524.2V529.7M693.5,524.2V529.7M721,524.2V529.7" stroke="#333" stroke-width="1.8"/><text x="473.5" y="550.5" font-size="18.8" text-anchor="middle">09</text><text x="501" y="550.5" font-size="18.8" text-anchor="middle">13</text><text x="528.5" y="550.5" font-size="18.8" text-anchor="middle">14</text><text x="556" y="550.5" font-size="18.8" text-anchor="middle">15</text><text x="583.5" y="550.5" font-size="18.8" text-anchor="middle">16</text><text x="611" y="550.5" font-size="18.8" text-anchor="middle">17</text><text x="638.5" y="550.5" font-size="18.8" text-anchor="middle">18</text><text x="666" y="550.5" font-size="18.8" text-anchor="middle">19</text><text x="693.5" y="550.5" font-size="18.8" text-anchor="middle">20</text><text x="721" y="550.5" font-size="18.8" text-anchor="middle">21</text><text x="473.5" y="571.5" font-size="18.8" text-anchor="middle">12</text><text x="597.25" y="597" font-size="19.2" letter-spacing="0.2" text-anchor="middle">Evaluation Years</text><path d="M836.5,524.2V529.7M864,524.2V529.7M891.5,524.2V529.7M919,524.2V529.7M946.5,524.2V529.7M974,524.2V529.7M1001.5,524.2V529.7M1029,524.2V529.7M1056.5,524.2V529.7M1084,524.2V529.7" stroke="#333" stroke-width="1.8"/><text x="836.5" y="550.5" font-size="18.8" text-anchor="middle">09</text><text x="864" y="550.5" font-size="18.8" text-anchor="middle">13</text><text x="891.5" y="550.5" font-size="18.8" text-anchor="middle">14</text><text x="919" y="550.5" font-size="18.8" text-anchor="middle">15</text><text x="946.5" y="550.5" font-size="18.8" text-anchor="middle">16</text><text x="974" y="550.5" font-size="18.8" text-anchor="middle">17</text><text x="1001.5" y="550.5" font-size="18.8" text-anchor="middle">18</text><text x="1029" y="550.5" font-size="18.8" text-anchor="middle">19</text><text x="1056.5" y="550.5" font-size="18.8" text-anchor="middle">20</text><text x="1084" y="550.5" font-size="18.8" text-anchor="middle">21</text><text x="836.5" y="571.5" font-size="18.8" text-anchor="middle">12</text><text x="960.25" y="597" font-size="19.2" letter-spacing="0.2" text-anchor="middle">Evaluation Years</text><path d="M1199.5,524.2V529.7M1227,524.2V529.7M1254.5,524.2V529.7M1282,524.2V529.7M1309.5,524.2V529.7M1337,524.2V529.7M1364.5,524.2V529.7M1392,524.2V529.7M1419.5,524.2V529.7M1447,524.2V529.7" stroke="#333" stroke-width="1.8"/><text x="1199.5" y="550.5" font-size="18.8" text-anchor="middle">09</text><text x="1227" y="550.5" font-size="18.8" text-anchor="middle">13</text><text x="1254.5" y="550.5" font-size="18.8" text-anchor="middle">14</text><text x="1282" y="550.5" font-size="18.8" text-anchor="middle">15</text><text x="1309.5" y="550.5" font-size="18.8" text-anchor="middle">16</text><text x="1337" y="550.5" font-size="18.8" text-anchor="middle">17</text><text x="1364.5" y="550.5" font-size="18.8" text-anchor="middle">18</text><text x="1392" y="550.5" font-size="18.8" text-anchor="middle">19</text><text x="1419.5" y="550.5" font-size="18.8" text-anchor="middle">20</text><text x="1447" y="550.5" font-size="18.8" text-anchor="middle">21</text><text x="1199.5" y="571.5" font-size="18.8" text-anchor="middle">12</text><text x="1323.25" y="597" font-size="19.2" letter-spacing="0.2" text-anchor="middle">Evaluation Years</text><text x="232.2" y="23.3" font-size="22.5" text-anchor="middle">Hospital Mortality</text><text x="589.5" y="22.4" font-size="22.5" text-anchor="middle">Long LOS</text><text x="963.9" y="20.4" font-size="22.5" text-anchor="middle">30-day Readmission</text><text x="1326.7" y="20.6" font-size="22.5" text-anchor="middle">ICU Admission</text><text transform="translate(16.8,121.9) rotate(-90)" font-size="19" text-anchor="middle">AUROC</text><text transform="translate(18,278.4) rotate(-90)" font-size="19" text-anchor="middle">AUPRC<tspan font-size="13" dy="4" font-style="italic">C</tspan></text><text transform="translate(17.2,454.9) rotate(-90)" font-size="19" text-anchor="middle">ACE</text><rect x="505" y="629" width="545" height="45" rx="6" ry="6" fill="#fff" stroke="#999" stroke-width="1.6"/><line x1="539" y1="649.1" x2="599" y2="649.1" stroke="#000" stroke-width="3.6"/><circle cx="568.4" cy="649.1" r="9.2"/><text x="618.3" y="657" font-size="22.5">Count-LR [09-12]</text><circle cx="839" cy="649" r="8.1" fill="#909090" stroke="#000" stroke-width="2.1"/><text x="871.3" y="657" font-size="22.5">Oracle Models</text></svg>
</body></html>
